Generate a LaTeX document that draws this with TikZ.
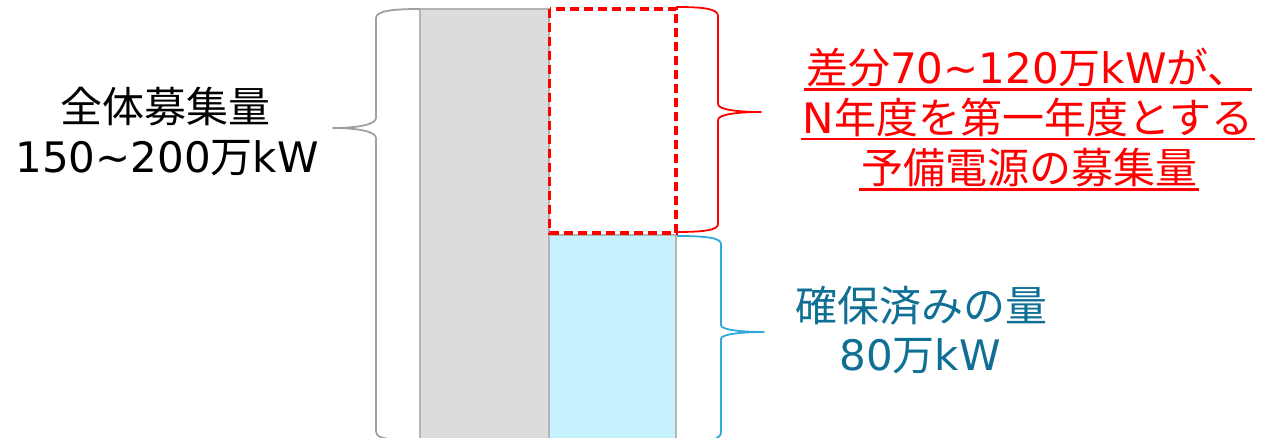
\documentclass[tikz,border=0pt]{standalone}
\usepackage{fontspec}
\setmainfont{DejaVu Sans}
\newfontfamily\jp{Noto Sans CJK JP}
\definecolor{barfill}{HTML}{DCDCDC}
\definecolor{barline}{HTML}{B4B4B4}
\definecolor{cyanfill}{HTML}{C6F2FD}
\definecolor{bracegray}{HTML}{A0A0A0}
\definecolor{braceblue}{HTML}{30A9DC}
\definecolor{textblue}{HTML}{0F6F94}
\definecolor{myred}{HTML}{FF0000}
\newcommand\myul[1]{\setbox0\hbox{#1}\rlap{\kern-2pt\rule[-\dimexpr\dp0+3pt\relax]{\dimexpr\wd0+4pt\relax}{2.2pt}}\box0}
\begin{document}
\begin{tikzpicture}[x=1pt,y=-1pt,
  txt/.style={anchor=base, inner sep=0pt, font=\fontsize{42}{50}\selectfont},
  bar/.style={draw=barline, line width=2pt},
  bracepath/.style={line width=1.8pt, line join=round},
  dashbox/.style={draw=myred, line width=3.2pt, dash pattern=on 9pt off 5pt}]
\useasboundingbox (0,0) rectangle (1263,438);
% bars
\path[bar, fill=barfill] (420,9) rectangle (548.5,446);
\path[bar, fill=cyanfill] (548.5,235) rectangle (676,446);
\path[dashbox] (549.5,9) rectangle (676,233);
% braces
\draw[bracepath, bracegray] (420,9) .. controls (392,9) and (376,11) .. (376,18) -- (376,118) .. controls (376,125) and (355,128) .. (333,128) .. controls (355,128) and (376,131) .. (376,138) -- (376,431) .. controls (376,436) and (380,439) .. (400,440);
\draw[bracepath, myred] (676,7) .. controls (705,7) and (718,9) .. (718,16) -- (718,104) .. controls (718,110) and (740,112) .. (761,112) .. controls (740,112) and (718,114) .. (718,120) -- (718,224) .. controls (718,230) and (705,232) .. (676,232);
\draw[bracepath, braceblue] (677,236) .. controls (707,236) and (721,238) .. (721,244) -- (721,325) .. controls (721,330) and (742,332) .. (764,332) .. controls (742,332) and (721,334) .. (721,339) -- (721,432) .. controls (721,436) and (718,438) .. (712,440);
% texts
\node[txt] (total1) at (165,123) {\jp 全体募集量};
\node[txt] (total2) at (167,173) {150\textasciitilde200{\jp 万}kW};
\node[txt, text=myred] (diff1) at (1028,84) {\myul{{\jp 差分}70\textasciitilde120{\jp 万}kW{\jp が、}}};
\node[txt, text=myred] (diff2) at (1028,134) {\myul{N{\jp 年度を第一年度とする}}};
\node[txt, text=myred] (diff3) at (1029,184) {\myul{\jp 予備電源の募集量}};
\node[txt, text=textblue] (sec1) at (921,321) {\jp 確保済みの量};
\node[txt, text=textblue] (sec2) at (920,370) {80{\jp 万}kW};
\end{tikzpicture}
\end{document}
